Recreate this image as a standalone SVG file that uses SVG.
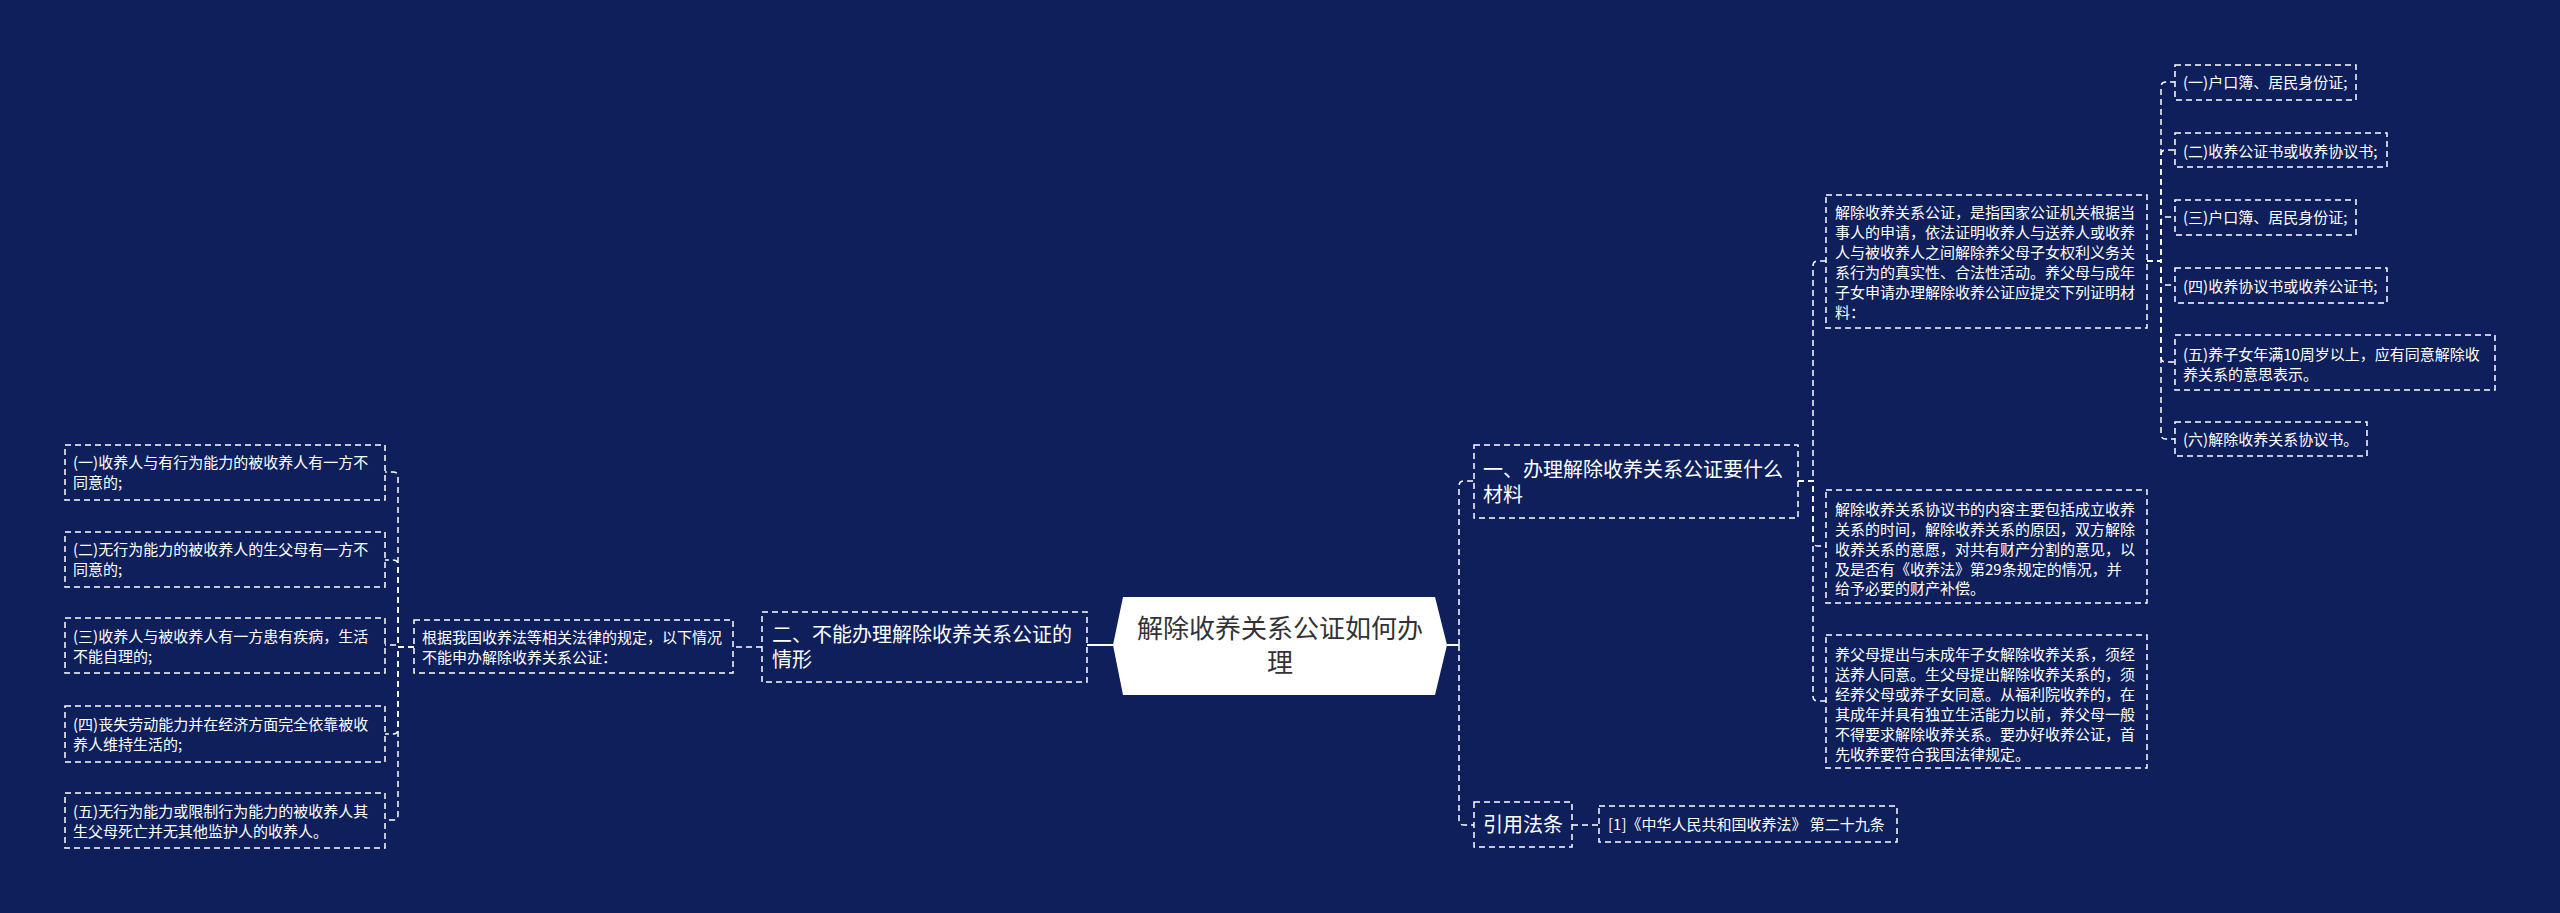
<svg xmlns="http://www.w3.org/2000/svg" width="2560" height="913" viewBox="0 0 2560 913">
<style>
.bx{fill:none;stroke:#ffffff;stroke-width:1.5;stroke-dasharray:6 4}
.cn{fill:none;stroke:#ffffff;stroke-width:1.5;stroke-dasharray:6 4}
.sl{fill:none;stroke:#ffffff;stroke-width:2}
.t15{font-family:"Noto Sans CJK SC","Noto Sans",sans-serif;font-size:15px;fill:#ffffff}
.t20{font-family:"Noto Sans CJK SC","Noto Sans",sans-serif;font-size:20px;fill:#ffffff}
.t26{font-family:"Noto Sans CJK SC","Noto Sans",sans-serif;font-size:26px;fill:#333333}
</style>
<rect x="0" y="0" width="2560" height="913" fill="#0e1f5b"/>
<g id="connectors">
<path class="sl" d="M1113 645 H1087"/>
<path class="sl" d="M1447 645 H1459"/>
<path class="cn" d="M762 647 H733"/>
<path class="cn" d="M414 647 H398 V477 Q398 472 393 472 H385"/>
<path class="cn" d="M414 647 H398 V565 Q398 560 393 560 H385"/>
<path class="cn" d="M414 647 H398 V645 H385"/>
<path class="cn" d="M414 647 H398 V729 Q398 734 393 734 H385"/>
<path class="cn" d="M414 647 H398 V815 Q398 820 393 820 H385"/>
<path class="cn" d="M1459 645 V486 Q1459 481 1464 481 H1474"/>
<path class="cn" d="M1459 645 V820 Q1459 825 1464 825 H1474"/>
<path class="cn" d="M1572 825 H1599"/>
<path class="cn" d="M1798 481 H1813 V266 Q1813 261 1818 261 H1826"/>
<path class="cn" d="M1798 481 H1813 V541 Q1813 546 1818 546 H1826"/>
<path class="cn" d="M1798 481 H1813 V696 Q1813 701 1818 701 H1826"/>
<path class="cn" d="M2147 261 H2161 V87 Q2161 82 2166 82 H2175"/>
<path class="cn" d="M2147 261 H2161 V155 Q2161 150 2166 150 H2175"/>
<path class="cn" d="M2147 261 H2161 V222 Q2161 217 2166 217 H2175"/>
<path class="cn" d="M2147 261 H2161 V280 Q2161 285 2166 285 H2175"/>
<path class="cn" d="M2147 261 H2161 V357 Q2161 362 2166 362 H2175"/>
<path class="cn" d="M2147 261 H2161 V434 Q2161 439 2166 439 H2175"/>
</g>
<g id="root">
<polygon points="1113,645 1123,597 1435,597 1447,645 1435,695 1123,695" fill="#ffffff"/>
<text class="t26" x="1280" y="638" text-anchor="middle">解除收养关系公证如何办</text>
<text class="t26" x="1280" y="672" text-anchor="middle">理</text>
</g>
<g id="n-left">
<rect class="bx" x="762" y="612" width="325" height="70"/>
<text class="t20" x="772" y="642">二、不能办理解除收养关系公证的</text>
<text class="t20" x="772" y="667">情形</text>
</g>
<g id="n-left-desc">
<rect class="bx" x="414" y="620" width="319" height="53"/>
<text class="t15" x="422" y="643">根据我国收养法等相关法律的规定，以下情况</text>
<text class="t15" x="422" y="663">不能申办解除收养关系公证：</text>
</g>
<g id="l1">
<rect class="bx" x="65" y="445" width="320" height="55"/>
<text class="t15" x="73" y="468">(一)收养人与有行为能力的被收养人有一方不</text>
<text class="t15" x="73" y="488">同意的;</text>
</g>
<g id="l2">
<rect class="bx" x="65" y="532" width="320" height="55"/>
<text class="t15" x="73" y="555">(二)无行为能力的被收养人的生父母有一方不</text>
<text class="t15" x="73" y="575">同意的;</text>
</g>
<g id="l3">
<rect class="bx" x="65" y="618" width="320" height="55"/>
<text class="t15" x="73" y="642">(三)收养人与被收养人有一方患有疾病，生活</text>
<text class="t15" x="73" y="662">不能自理的;</text>
</g>
<g id="l4">
<rect class="bx" x="65" y="706" width="320" height="56"/>
<text class="t15" x="73" y="730">(四)丧失劳动能力并在经济方面完全依靠被收</text>
<text class="t15" x="73" y="750">养人维持生活的;</text>
</g>
<g id="l5">
<rect class="bx" x="65" y="793" width="320" height="55"/>
<text class="t15" x="73" y="817">(五)无行为能力或限制行为能力的被收养人其</text>
<text class="t15" x="73" y="837">生父母死亡并无其他监护人的收养人。</text>
</g>
<g id="n-right1">
<rect class="bx" x="1474" y="445" width="324" height="73"/>
<text class="t20" x="1483" y="477">一、办理解除收养关系公证要什么</text>
<text class="t20" x="1483" y="502">材料</text>
</g>
<g id="n-right2">
<rect class="bx" x="1474" y="802" width="98" height="45"/>
<text class="t20" x="1483" y="832">引用法条</text>
</g>
<g id="law">
<rect class="bx" x="1599" y="806" width="298" height="36"/>
<text class="t15" x="1608" y="830">[1]《中华人民共和国收养法》 第二十九条</text>
</g>
<g id="pA">
<rect class="bx" x="1826" y="195" width="321" height="133"/>
<text class="t15" x="1835" y="218">解除收养关系公证，是指国家公证机关根据当</text>
<text class="t15" x="1835" y="238">事人的申请，依法证明收养人与送养人或收养</text>
<text class="t15" x="1835" y="258">人与被收养人之间解除养父母子女权利义务关</text>
<text class="t15" x="1835" y="278">系行为的真实性、合法性活动。养父母与成年</text>
<text class="t15" x="1835" y="298">子女申请办理解除收养公证应提交下列证明材</text>
<text class="t15" x="1835" y="318">料：</text>
</g>
<g id="pB">
<rect class="bx" x="1826" y="490" width="321" height="113"/>
<text class="t15" x="1835" y="515">解除收养关系协议书的内容主要包括成立收养</text>
<text class="t15" x="1835" y="535">关系的时间，解除收养关系的原因，双方解除</text>
<text class="t15" x="1835" y="555">收养关系的意愿，对共有财产分割的意见，以</text>
<text class="t15" x="1835" y="575">及是否有《收养法》第29条规定的情况，并</text>
<text class="t15" x="1835" y="594">给予必要的财产补偿。</text>
</g>
<g id="pC">
<rect class="bx" x="1826" y="635" width="321" height="133"/>
<text class="t15" x="1835" y="660">养父母提出与未成年子女解除收养关系，须经</text>
<text class="t15" x="1835" y="680">送养人同意。生父母提出解除收养关系的，须</text>
<text class="t15" x="1835" y="700">经养父母或养子女同意。从福利院收养的，在</text>
<text class="t15" x="1835" y="720">其成年并具有独立生活能力以前，养父母一般</text>
<text class="t15" x="1835" y="740">不得要求解除收养关系。要办好收养公证，首</text>
<text class="t15" x="1835" y="760">先收养要符合我国法律规定。</text>
</g>
<g id="a1">
<rect class="bx" x="2175" y="65" width="181" height="35"/>
<text class="t15" x="2183" y="88">(一)户口簿、居民身份证;</text>
</g>
<g id="a2">
<rect class="bx" x="2175" y="133" width="212" height="34"/>
<text class="t15" x="2183" y="157">(二)收养公证书或收养协议书;</text>
</g>
<g id="a3">
<rect class="bx" x="2175" y="200" width="181" height="35"/>
<text class="t15" x="2183" y="223">(三)户口簿、居民身份证;</text>
</g>
<g id="a4">
<rect class="bx" x="2175" y="268" width="212" height="35"/>
<text class="t15" x="2183" y="292">(四)收养协议书或收养公证书;</text>
</g>
<g id="a5">
<rect class="bx" x="2175" y="335" width="320" height="55"/>
<text class="t15" x="2183" y="360">(五)养子女年满10周岁以上，应有同意解除收</text>
<text class="t15" x="2183" y="380">养关系的意思表示。</text>
</g>
<g id="a6">
<rect class="bx" x="2175" y="422" width="192" height="34"/>
<text class="t15" x="2183" y="445">(六)解除收养关系协议书。</text>
</g>
</svg>
